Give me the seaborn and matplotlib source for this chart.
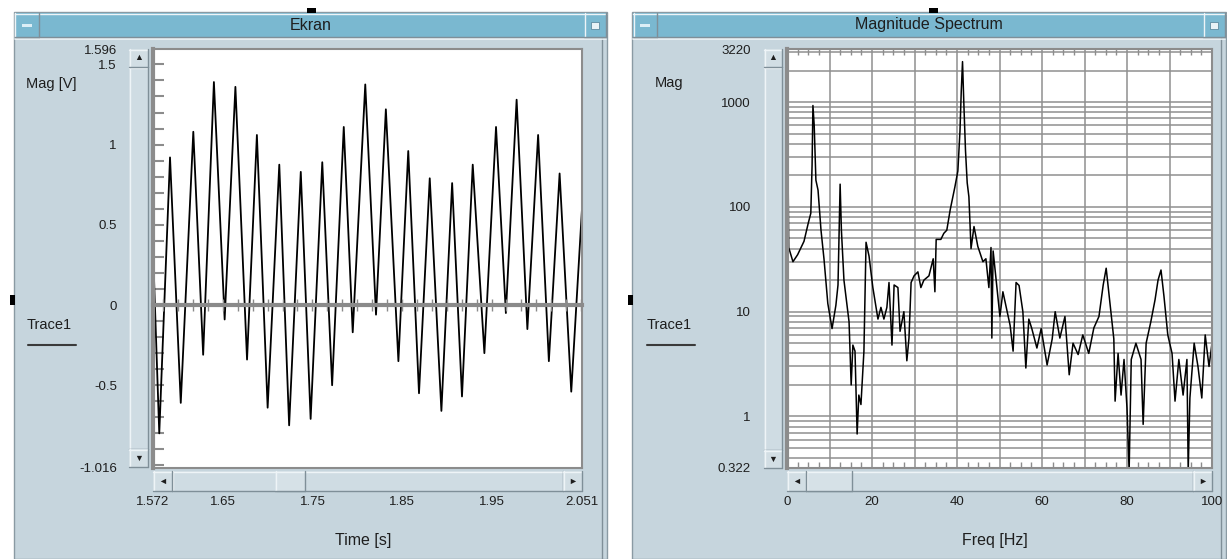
import numpy as np
import pandas as pd
import matplotlib
matplotlib.use('Agg')
import matplotlib.pyplot as plt
from matplotlib.patches import Rectangle
from matplotlib.lines import Line2D
from matplotlib.ticker import MultipleLocator, LogLocator, NullFormatter
import seaborn as sns

# ---- data ----
# time trace (Ekran): peaks and troughs of the waveform
start_t, start_v = 1.572, 0.35
end_t, end_v = 2.051, 0.6
peak_t = [1.591, 1.617, 1.640, 1.664, 1.688, 1.713, 1.737, 1.761, 1.785, 1.809,
          1.832, 1.857, 1.881, 1.906, 1.929, 1.955, 1.978, 2.002, 2.026]
peak_v = [0.92, 1.08, 1.39, 1.36, 1.06, 0.875, 0.83, 0.89, 1.11, 1.375,
          1.22, 0.96, 0.79, 0.76, 0.875, 1.11, 1.28, 1.06, 0.82]
trough_t = [1.579, 1.603, 1.628, 1.652, 1.677, 1.700, 1.724, 1.748, 1.772, 1.795,
            1.821, 1.846, 1.869, 1.894, 1.917, 1.942, 1.966, 1.990, 2.014, 2.039]
trough_v = [-0.80, -0.61, -0.31, -0.09, -0.34, -0.64, -0.75, -0.71, -0.50, -0.17,
            -0.06, -0.35, -0.55, -0.66, -0.57, -0.30, -0.05, -0.15, -0.35, -0.54]

time_ticks = [1.572, 1.65, 1.75, 1.85, 1.95, 2.051]
time_labels = ['1.572', '1.65', '1.75', '1.85', '1.95', '2.051']
volt_ticks = [1.596, 1.5, 1, 0.5, 0, -0.5, -1.016]
volt_labels = ['1.596', '1.5', '1', '0.5', '0', '-0.5', '-1.016']

# magnitude spectrum
freq_hz = [0, 0.4, 1.4, 2.5, 4.0, 5.0, 5.6, 5.9, 6.1, 6.4,
           6.8, 7.3, 8.0, 8.7, 9.6, 10.6, 11.5, 12.0, 12.5, 12.8,
           13.4, 14.6, 15.1, 15.5, 16.0, 16.5, 16.9, 17.4, 18.1, 18.6,
           19.3, 20.2, 21.4, 22.1, 22.8, 23.5, 24.0, 24.7, 25.2, 26.1,
           26.6, 27.5, 28.2, 28.7, 29.2, 29.9, 30.8, 31.5, 32.2, 33.4,
           34.4, 34.8, 35.1, 36.2, 36.9, 37.6, 38.4, 39.5, 40.2, 40.7,
           41.0, 41.3, 41.6, 42.0, 42.4, 42.8, 43.3, 44.0, 44.9, 46.1,
           46.8, 47.5, 48.0, 48.2, 48.5, 49.4, 50.1, 50.8, 51.8, 52.5,
           53.2, 53.9, 54.6, 55.5, 56.2, 56.9, 57.6, 58.8, 59.8, 61.2,
           62.4, 63.1, 64.2, 65.4, 66.4, 67.3, 68.5, 69.6, 71.0, 72.2,
           73.4, 74.4, 75.1, 76.0, 76.9, 77.2, 77.9, 78.6, 79.3, 80.0,
           80.5, 81.0, 82.1, 83.3, 83.8, 84.5, 85.6, 86.6, 87.3, 88.0,
           88.7, 89.6, 90.6, 91.3, 92.2, 93.2, 94.1, 94.4, 94.8, 95.8,
           96.7, 97.6, 98.4, 99.3, 100]
mag = [3220, 41, 30, 35, 47, 70, 87, 250, 930, 600,
       180, 145, 60, 32, 12, 6.9, 11.5, 18, 165, 60,
       20, 8, 2.0, 4.8, 4.2, 0.68, 1.6, 1.3, 4.2, 46,
       34, 17, 8.5, 11, 8.5, 11, 19, 4.8, 18, 17,
       6.5, 10, 3.4, 5.6, 19, 22, 24, 17, 20, 22,
       32, 15.5, 49, 49, 56, 60, 94, 155, 220, 530,
       1270, 2440, 1000, 345, 170, 125, 40, 65, 42, 30,
       32, 17, 41, 5.6, 38, 17, 9, 15.5, 10, 7.4,
       4.2, 19, 17.8, 10, 2.9, 8.5, 6.9, 4.5, 6.9, 3.1,
       5.5, 10, 5.6, 9, 2.5, 5, 3.9, 6, 4, 7,
       9, 18, 26, 12, 5.5, 1.4, 4, 1.6, 3.5, 1.2,
       0.3, 3.5, 5, 3.5, 0.84, 5, 8, 13, 20, 25,
       14, 6, 4, 1.4, 3.5, 1.6, 3.5, 0.3, 1.5, 5,
       3, 1.5, 6, 3, 5]

freq_ticks = list(range(0, 101, 10))
freq_labels = ['0', '', '20', '', '40', '', '60', '', '80', '', '100']
mag_ticks = [0.322, 1, 10, 100, 1000, 3220]
mag_labels = ['0.322', '1', '10', '100', '1000', '3220']

# ---- look ----
sns.set_style('white')
plt.rcParams['font.family'] = ['Liberation Sans', 'DejaVu Sans']

W, H = 1227, 559
BG = '#c6d5dd'
TITLE = '#7ab8d0'
LIGHT = '#eef4f7'
DARK = '#7f8f98'
GRID = '#8f8f8f'
TXT = '#1e1e1e'

fig = plt.figure(figsize=(W / 100, H / 100), dpi=100)
fig.patch.set_facecolor('white')


def rect(x0, y0, x1, y1, fc, ec='none', lw=0, z=-5):
    fig.add_artist(Rectangle((x0 / W, 1 - y1 / H), (x1 - x0) / W, (y1 - y0) / H,
                             transform=fig.transFigure, facecolor=fc,
                             edgecolor=ec, linewidth=lw, zorder=z))


def hline(x0, x1, y, c, lw=1, z=-4):
    fig.add_artist(Line2D([x0 / W, x1 / W], [1 - y / H, 1 - y / H],
                          transform=fig.transFigure, color=c, lw=lw, zorder=z))


def vline(x, y0, y1, c, lw=1, z=-4):
    fig.add_artist(Line2D([x / W, x / W], [1 - y0 / H, 1 - y1 / H],
                          transform=fig.transFigure, color=c, lw=lw, zorder=z))


def bevel(x0, y0, x1, y1, fc, z=-4):
    rect(x0, y0, x1, y1, fc, z=z)
    hline(x0, x1, y0 + 0.5, LIGHT, 1, z + 0.5)
    vline(x0 + 0.5, y0, y1, LIGHT, 1, z + 0.5)
    hline(x0, x1, y1 - 0.5, DARK, 1, z + 0.5)
    vline(x1 - 0.5, y0, y1, DARK, 1, z + 0.5)


def text(x, y, s, size=10, ha='center', **kw):
    fig.text(x / W, 1 - y / H, s, ha=ha, va='center', fontsize=size, color=TXT, **kw)


def panel(x0, x1, title, mark_x):
    rect(x0, 12, x1, H, BG, ec='#8a9aa3', lw=1, z=-6)
    vline(x1 - 5, 38, H, DARK, 1)
    bevel(x0 + 1, 13, x1 - 1, 37, TITLE)
    hline(x0 + 1, x1 - 1, 38.5, LIGHT, 1.2)
    bevel(x0 + 1, 13, x0 + 25, 37, TITLE, z=-3)
    rect(x0 + 8, 24, x0 + 18, 26.5, '#dbeef6', z=-2)
    bevel(x1 - 23, 13, x1 - 1, 37, TITLE, z=-3)
    rect(x1 - 16, 22, x1 - 8, 29, '#e8f2f6', ec='#5d8aa0', lw=0.6, z=-2)
    text((x0 + x1) / 2, 25, title, size=11.5)
    rect(mark_x, 8, mark_x + 9, 12.5, 'black', z=-2)
    rect(x0 - 4, 295, x0 + 1, 305, 'black', z=-2)


def vscroll(x0, x1, y0, y1):
    rect(x0, y0, x1, y1, '#b7c7cf', z=-4)
    bevel(x0, y0 + 18, x1, y1 - 18, '#cfdce3', z=-3.5)
    bevel(x0, y0, x1, y0 + 18, '#d2dee4', z=-3)
    bevel(x0, y1 - 18, x1, y1, '#d2dee4', z=-3)
    text((x0 + x1) / 2, y0 + 9, '\u25b2', size=6.5)
    text((x0 + x1) / 2, y1 - 9, '\u25bc', size=6.5)


def hscroll(x0, x1, y0, y1, t0, t1):
    rect(x0, y0, x1, y1, '#b7c7cf', z=-4)
    bevel(x0 + 19, y0, x1 - 19, y1, '#cfdce3', z=-3.5)
    bevel(t0, y0, t1, y1, '#d6e1e7', z=-3)
    bevel(x0, y0, x0 + 19, y1, '#d2dee4', z=-3)
    bevel(x1 - 19, y0, x1, y1, '#d2dee4', z=-3)
    text(x0 + 9.5, (y0 + y1) / 2, '\u25c4', size=6.5)
    text(x1 - 9.5, (y0 + y1) / 2, '\u25ba', size=6.5)


def add_ax(x0, y0, x1, y1):
    return fig.add_axes([x0 / W, 1 - y1 / H, (x1 - x0) / W, (y1 - y0) / H])


def frame(ax):
    for side in ['top', 'right', 'bottom', 'left']:
        ax.spines[side].set_color('#8c8c8c')
        ax.spines[side].set_linewidth(1.5)
    ax.spines['left'].set_linewidth(3)
    ax.set_facecolor('white')


# ---- left panel : Ekran ----
panel(14, 607, 'Ekran', 307)
vscroll(129, 148, 49, 467)
hscroll(153, 582, 471, 491, 275, 305)
text(26, 84, 'Mag [V]', size=10.5, ha='left')
text(27, 325, 'Trace1', size=10.5, ha='left')
hline(28, 76, 345, '#3a3a3a', 1.5, z=2)
text(363, 540, 'Time [s]', size=11.5)

wave = pd.concat([
    pd.DataFrame({'t': [start_t, end_t], 'v': [start_v, end_v]}),
    pd.DataFrame({'t': peak_t, 'v': peak_v}),
    pd.DataFrame({'t': trough_t, 'v': trough_v}),
]).sort_values('t')

ax1 = add_ax(153, 49, 582, 468)
frame(ax1)
sns.lineplot(data=wave, x='t', y='v', ax=ax1, color='black', lw=1.3,
             estimator=None, sort=False)
ax1.set_xlim(1.572, 2.051)
ax1.set_ylim(-1.016, 1.596)
ax1.set_xlabel('')
ax1.set_ylabel('')
ax1.set_xticks(time_ticks, time_labels)
ax1.set_yticks(volt_ticks, volt_labels)
ax1.yaxis.set_minor_locator(MultipleLocator(0.1))
ax1.yaxis.remove_overlapping_locs = False
ax1.tick_params(axis='x', which='major', length=0, pad=20, labelsize=9.5, labelcolor=TXT)
ax1.tick_params(axis='y', which='major', length=0, pad=26, labelsize=9.5, labelcolor=TXT)
ax1.tick_params(axis='y', which='minor', left=True, direction='in', length=8,
                width=1.5, color='#8c8c8c')

# zero line with its own tick marks
ax1z = ax1.twiny()
ax1z.set_xlim(1.572, 2.051)
for side in ['bottom', 'left', 'right']:
    ax1z.spines[side].set_visible(False)
ax1z.spines['top'].set_position(('data', 0))
ax1z.spines['top'].set_color('#8a8a8a')
ax1z.spines['top'].set_linewidth(3)
ax1z.xaxis.set_major_locator(MultipleLocator(0.1 / 6))
ax1z.tick_params(axis='x', which='major', direction='inout', length=8, width=1,
                 color='#8a8a8a', labeltop=False)
ax1z.patch.set_visible(False)

# ---- right panel : Magnitude Spectrum ----
panel(632, 1226, 'Magnitude Spectrum', 929)
vscroll(764, 782, 49, 468)
hscroll(787, 1212, 471, 491, 806, 852)
text(655, 83, 'Mag', size=10.5, ha='left')
text(647, 325, 'Trace1', size=10.5, ha='left')
hline(647, 695, 345, '#3a3a3a', 1.5, z=2)
text(995, 540, 'Freq [Hz]', size=11.5)

spec = pd.DataFrame({'f': freq_hz, 'm': mag})
ax2 = add_ax(787, 49, 1212, 468)
frame(ax2)
ax2.set_yscale('log')
ax2.set_xlim(0, 100)
ax2.set_ylim(0.322, 3220)
ax2.set_yticks(mag_ticks, mag_labels)
ax2.yaxis.set_minor_locator(LogLocator(base=10, subs=np.arange(2, 10)))
ax2.yaxis.set_minor_formatter(NullFormatter())
ax2.set_xticks(freq_ticks, freq_labels)
ax2.xaxis.set_minor_locator(MultipleLocator(2.5))
ax2.set_axisbelow(True)
ax2.yaxis.grid(True, which='both', color=GRID, lw=1.1)
ax2.xaxis.grid(True, which='major', color=GRID, lw=1.1)
ax2.tick_params(axis='x', which='major', length=0, pad=20, labelsize=9.5, labelcolor=TXT)
ax2.tick_params(axis='y', which='major', length=0, pad=26, labelsize=9.5, labelcolor=TXT)
ax2.tick_params(axis='y', which='minor', length=0)
ax2.tick_params(axis='x', which='minor', bottom=True, top=True, direction='in',
                length=4, width=1, color='#8c8c8c')
sns.lineplot(data=spec, x='f', y='m', ax=ax2, color='black', lw=1.1,
             estimator=None, sort=False)
ax2.set_xlabel('')
ax2.set_ylabel('')

fig.savefig('out.png', dpi=100, facecolor='white')
